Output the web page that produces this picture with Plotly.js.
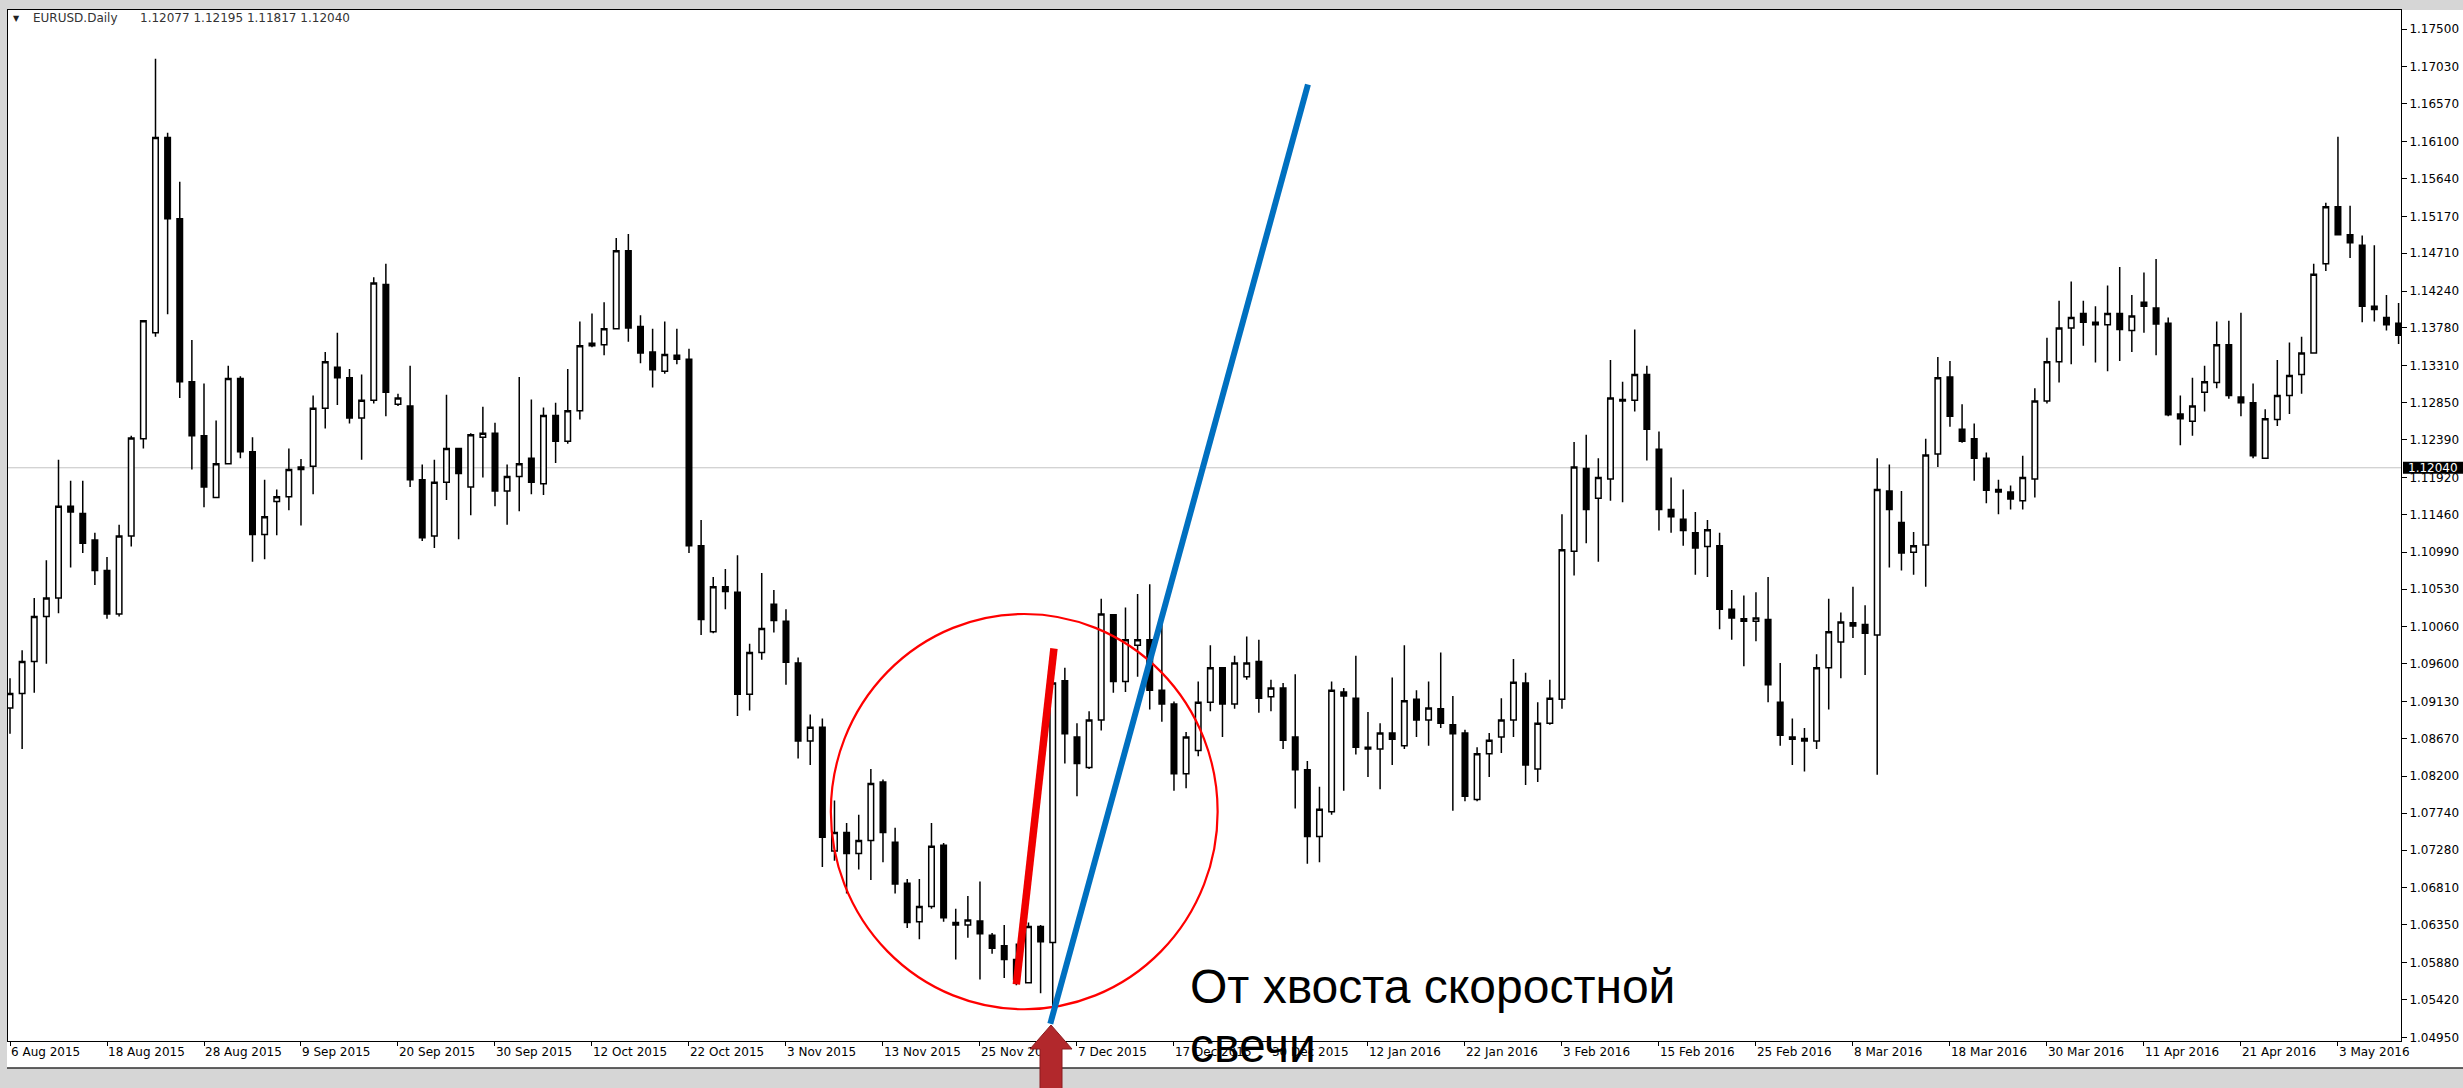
<!DOCTYPE html>
<html><head><meta charset="utf-8">
<script src="https://cdn.plot.ly/plotly-3.0.1.min.js"></script>
<style>html,body{margin:0;padding:0;background:#d6d6d6;overflow:hidden}#chart{width:2463px;height:1088px}</style>
</head><body><div id="chart"></div>
<script>
// ---- data (EURUSD Daily, one bar per trading day) ----
const dateLabels = ["6 Aug 2015","18 Aug 2015","28 Aug 2015","9 Sep 2015","20 Sep 2015","30 Sep 2015","12 Oct 2015","22 Oct 2015","3 Nov 2015","13 Nov 2015","25 Nov 2015","7 Dec 2015","17 Dec 2015","30 Dec 2015","12 Jan 2016","22 Jan 2016","3 Feb 2016","15 Feb 2016","25 Feb 2016","8 Mar 2016","18 Mar 2016","30 Mar 2016","11 Apr 2016","21 Apr 2016","3 May 2016"];
const barsPerLabel = 8;

const open = [
1.0905,1.0923,1.0963,1.1019,1.1042,1.1156,1.1147,1.1114,1.1076,1.1022,
1.1119,1.1240,1.1372,1.1615,1.1514,1.1311,1.1244,1.1167,1.1209,1.1315,
1.1224,1.1121,1.1162,1.1168,1.1202,1.1206,1.1278,1.1329,1.1316,1.1266,
1.1288,1.1432,1.1283,1.1281,1.1189,1.1119,1.1186,1.1228,1.1180,1.1242,
1.1247,1.1175,1.1193,1.1216,1.1184,1.1269,1.1237,1.1275,1.1359,1.1357,
1.1377,1.1474,1.1380,1.1348,1.1324,1.1344,1.1339,1.1107,1.1000,1.1056,
1.1049,1.0922,1.0974,1.1034,1.1013,1.0961,1.0864,1.0881,1.0727,1.0750,
1.0724,1.0740,1.0813,1.0738,1.0687,1.0639,1.0658,1.0734,1.0638,1.0635,
1.0640,1.0622,1.0609,1.0592,1.0563,1.0633,1.0613,1.0939,1.0869,1.0831,
1.0890,1.1021,1.0938,1.0983,1.0990,1.0927,1.0910,1.0823,1.0852,1.0912,
1.0955,1.0910,1.0944,1.0963,1.0919,1.0930,1.0869,1.0828,1.0745,1.0776,
1.0925,1.0917,1.0856,1.0854,1.0874,1.0858,1.0916,1.0890,1.0904,1.0884,
1.0874,1.0791,1.0848,1.0869,1.0890,1.0936,1.0829,1.0886,1.0916,1.1100,
1.1203,1.1166,1.1190,1.1287,1.1288,1.1320,1.1227,1.1152,1.1140,1.1123,
1.1106,1.1107,1.1028,1.1016,1.1013,1.1015,1.0912,1.0869,1.0864,1.0864,
1.0955,1.0987,1.1011,1.1009,1.0996,1.1175,1.1136,1.1099,1.1108,1.1221,
1.1317,1.1252,1.1240,1.1216,1.1177,1.1174,1.1163,1.1190,1.1287,1.1336,
1.1378,1.1396,1.1385,1.1382,1.1396,1.1375,1.1410,1.1403,1.1384,1.1271,
1.1262,1.1298,1.1310,1.1357,1.1292,1.1285,1.1216,1.1264,1.1294,1.1320,
1.1347,1.1458,1.1529,1.1494,1.1481,1.1405,1.1391,1.1384];

const high = [
1.0942,1.0977,1.1042,1.1089,1.1214,1.1188,1.1188,1.1123,1.1093,1.1133,
1.1244,1.1387,1.1713,1.1621,1.1560,1.1363,1.1309,1.1263,1.1331,1.1318,
1.1242,1.1189,1.1177,1.1228,1.1215,1.1294,1.1348,1.1372,1.1327,1.1320,
1.1441,1.1458,1.1296,1.1331,1.1208,1.1214,1.1295,1.1229,1.1247,1.1280,
1.1260,1.1208,1.1317,1.1289,1.1279,1.1285,1.1327,1.1386,1.1396,1.1410,
1.1490,1.1495,1.1394,1.1377,1.1386,1.1377,1.1352,1.1139,1.1068,1.1078,
1.1095,1.0985,1.1073,1.1052,1.1028,1.0968,1.0897,1.0892,1.0790,1.0762,
1.0772,1.0829,1.0816,1.0756,1.0692,1.0692,1.0762,1.0737,1.0655,1.0671,
1.0689,1.0625,1.0635,1.0612,1.0638,1.0635,1.0978,1.0955,1.0886,1.0901,
1.1041,1.1021,1.1030,1.1047,1.1059,1.1013,1.0913,1.0875,1.0938,1.0983,
1.0955,1.0970,1.0994,1.0990,1.0940,1.0936,1.0947,1.0839,1.0807,1.0938,
1.0930,1.0970,1.0900,1.0886,1.0943,1.0983,1.0927,1.0938,1.0974,1.0920,
1.0878,1.0856,1.0874,1.0917,1.0966,1.0949,1.0912,1.0940,1.1146,1.1236,
1.1245,1.1216,1.1338,1.1311,1.1376,1.1331,1.1249,1.1192,1.1177,1.1149,
1.1139,1.1123,1.1052,1.1045,1.1049,1.1068,1.0961,1.0892,1.0880,1.0972,
1.1041,1.1024,1.1056,1.1033,1.1216,1.1208,1.1175,1.1124,1.1240,1.1342,
1.1337,1.1283,1.1259,1.1223,1.1189,1.1182,1.1219,1.1303,1.1366,1.1412,
1.1436,1.1412,1.1405,1.1431,1.1454,1.1419,1.1447,1.1464,1.1391,1.1294,
1.1316,1.1331,1.1386,1.1387,1.1397,1.1309,1.1277,1.1338,1.1360,1.1367,
1.1458,1.1534,1.1616,1.1530,1.1493,1.1481,1.1419,1.1409];

const low = [
1.0873,1.0854,1.0924,1.0960,1.1023,1.1080,1.1098,1.1058,1.1016,1.1019,
1.1106,1.1228,1.1367,1.1395,1.1291,1.1202,1.1155,1.1167,1.1208,1.1216,
1.1087,1.1090,1.1120,1.1151,1.1132,1.1171,1.1253,1.1282,1.1259,1.1214,
1.1284,1.1268,1.1281,1.1180,1.1113,1.1104,1.1164,1.1115,1.1145,1.1192,
1.1156,1.1133,1.1150,1.1171,1.1170,1.1210,1.1234,1.1264,1.1354,1.1344,
1.1376,1.1361,1.1334,1.1304,1.1321,1.1333,1.1098,1.0996,1.0998,1.1028,
1.0895,1.0902,1.0965,1.0999,1.0934,1.0842,1.0834,1.0707,1.0715,1.0674,
1.0704,1.0691,1.0713,1.0674,1.0631,1.0617,1.0655,1.0639,1.0592,1.0619,
1.0567,1.0599,1.0569,1.0560,1.0562,1.0550,1.0530,1.0836,1.0795,1.0829,
1.0877,1.0924,1.0925,1.0944,1.0903,1.0888,1.0802,1.0805,1.0845,1.0901,
1.0869,1.0904,1.0940,1.0899,1.0901,1.0854,1.0780,1.0711,1.0713,1.0772,
1.0802,1.0847,1.0819,1.0804,1.0834,1.0854,1.0869,1.0858,1.0880,1.0777,
1.0789,1.0789,1.0819,1.0849,1.0869,1.0809,1.0813,1.0884,1.0904,1.1070,
1.1110,1.1087,1.1163,1.1161,1.1274,1.1213,1.1126,1.1123,1.1107,1.1071,
1.1068,1.1003,1.0990,1.0957,1.0988,1.0912,1.0858,1.0834,1.0826,1.0854,
1.0903,1.0942,1.0992,1.0946,1.0822,1.1080,1.1076,1.1071,1.1056,1.1205,
1.1255,1.1235,1.1188,1.1160,1.1146,1.1152,1.1152,1.1167,1.1284,1.1310,
1.1333,1.1356,1.1335,1.1324,1.1337,1.1348,1.1372,1.1344,1.1268,1.1232,
1.1244,1.1274,1.1303,1.1290,1.1268,1.1216,1.1215,1.1256,1.1271,1.1296,
1.1346,1.1449,1.1493,1.1465,1.1385,1.1386,1.1375,1.1358];

const close = [
1.0923,1.0963,1.1019,1.1042,1.1156,1.1149,1.1110,1.1076,1.1022,1.1119,
1.1241,1.1387,1.1615,1.1514,1.1311,1.1244,1.1180,1.1209,1.1315,1.1224,
1.1121,1.1143,1.1168,1.1202,1.1205,1.1278,1.1336,1.1316,1.1266,1.1288,
1.1434,1.1298,1.1291,1.1189,1.1117,1.1186,1.1228,1.1197,1.1245,1.1247,
1.1175,1.1193,1.1209,1.1186,1.1269,1.1237,1.1275,1.1356,1.1356,1.1377,
1.1474,1.1378,1.1347,1.1326,1.1345,1.1339,1.1107,1.1015,1.1056,1.1050,
1.0922,1.0974,1.1004,1.1014,1.0962,1.0864,1.0881,1.0744,1.0750,1.0724,
1.0740,1.0811,1.0750,1.0686,1.0638,1.0658,1.0733,1.0644,1.0635,1.0641,
1.0624,1.0606,1.0592,1.0567,1.0633,1.0614,1.0936,1.0873,1.0836,1.0890,
1.1022,1.0938,1.0990,1.0990,1.0927,1.0910,1.0823,1.0869,1.0912,1.0955,
1.0910,1.0961,1.0961,1.0917,1.0930,1.0865,1.0828,1.0745,1.0779,1.0927,
1.0920,1.0856,1.0854,1.0874,1.0866,1.0914,1.0890,1.0905,1.0886,1.0873,
1.0795,1.0848,1.0865,1.0890,1.0937,1.0834,1.0886,1.0917,1.1102,1.1205,
1.1152,1.1192,1.1291,1.1289,1.1320,1.1252,1.1152,1.1143,1.1126,1.1104,
1.1127,1.1028,1.1017,1.1013,1.1017,1.0934,1.0871,1.0866,1.0867,1.0955,
1.1000,1.1012,1.1007,1.0998,1.1177,1.1152,1.1098,1.1107,1.1220,1.1316,
1.1268,1.1237,1.1216,1.1176,1.1174,1.1165,1.1192,1.1287,1.1336,1.1378,
1.1391,1.1385,1.1382,1.1396,1.1376,1.1393,1.1405,1.1383,1.1270,1.1265,
1.1281,1.1311,1.1357,1.1294,1.1285,1.1219,1.1265,1.1294,1.1319,1.1347,
1.1445,1.1529,1.1494,1.1484,1.1405,1.1401,1.1382,1.1369];

const yTickLabels = ["1.17500","1.17030","1.16570","1.16100","1.15640","1.15170","1.14710","1.14240","1.13780","1.13310","1.12850","1.12390","1.11920","1.11460","1.10990","1.10530","1.10060","1.09600","1.09130","1.08670","1.08200","1.07740","1.07280","1.06810","1.06350","1.05880","1.05420","1.04950"];
const bidPrice = 1.12040;
const headerSymbol = "EURUSD.Daily";
const headerOHLC = "1.12077 1.12195 1.11817 1.12040";
const noteLine1 = "От хвоста скоростной";
const noteLine2 = "свечи";

// speed-candle annotation (bar index, price)
const redLine = {x: [83.0, 86.1], y: [1.0561, 1.0979]};
const blueLine = {x: [85.8, 107.05], y: [1.0512, 1.1681]};
const circle = {x: [67.7, 99.6], y: [1.0530, 1.1022]};

// ---- build ----
const barIndex = open.map((_, i) => i);
const tickVals = dateLabels.map((_, i) => i * barsPerLabel);
const yTickVals = yTickLabels.map(Number);

const W = 2463, H = 1088;
const M = {l: 8, r: 62, t: 10, b: 47};
const PW = W - M.l - M.r, PH = H - M.t - M.b;
const px = x => (x - M.l) / PW;          // pixel -> paper x
const py = y => (H - M.b - y) / PH;      // pixel -> paper y

const trace = {
  type: 'candlestick',
  x: barIndex, open: open, high: high, low: low, close: close,
  increasing: {line: {color: '#000000', width: 1.5}, fillcolor: '#ffffff'},
  decreasing: {line: {color: '#000000', width: 1.5}, fillcolor: '#000000'},
  whiskerwidth: 0,
  hoverinfo: 'none',
  showlegend: false
};

const font = 'DejaVu Sans, Verdana, sans-serif';

const layout = {
  width: W, height: H,
  margin: {l: M.l, r: M.r, t: M.t, b: M.b, pad: 0},
  paper_bgcolor: '#d6d6d6',
  plot_bgcolor: '#ffffff',
  font: {family: font, size: 12, color: '#000000'},
  showlegend: false,
  boxgap: 0.35,
  xaxis: {
    range: [-0.165, 197.2],
    rangeslider: {visible: false},
    tickmode: 'array', tickvals: tickVals, ticktext: dateLabels,
    ticks: 'outside', ticklen: 4, tickwidth: 1, tickcolor: '#000',
    ticklabelposition: 'outside right',
    showgrid: false, zeroline: false,
    showline: true, linecolor: '#000', linewidth: 1, mirror: true,
    tickfont: {family: font, size: 12, color: '#000'},
    fixedrange: true
  },
  yaxis: {
    side: 'right',
    range: [1.04905, 1.17738],
    tickmode: 'array', tickvals: yTickVals, ticktext: yTickLabels,
    ticks: 'outside', ticklen: 5, tickwidth: 1, tickcolor: '#000',
    showgrid: false, zeroline: false,
    showline: true, linecolor: '#000', linewidth: 1, mirror: true,
    tickfont: {family: font, size: 12, color: '#000'},
    fixedrange: true
  },
  shapes: [
    // white chart window (plot + label strips)
    {type: 'rect', xref: 'paper', yref: 'paper', x0: px(7), x1: px(W), y0: py(1068), y1: py(M.t),
     fillcolor: '#ffffff', line: {width: 0}, layer: 'below'},
    // bottom border of window
    {type: 'line', xref: 'paper', yref: 'paper', x0: px(7), x1: px(W), y0: py(1068), y1: py(1068),
     line: {color: '#303030', width: 1.5}},
    // bid line
    {type: 'line', xref: 'paper', yref: 'y', x0: 0, x1: 1, y0: bidPrice, y1: bidPrice,
     line: {color: '#c4c4c4', width: 1}, layer: 'below'},
    // bid label box
    {type: 'rect', xref: 'paper', yref: 'y', x0: px(2403), x1: px(W), y0: bidPrice - 6/8034, y1: bidPrice + 6/8034,
     fillcolor: '#000000', line: {width: 0}, layer: 'above'},
    // red ellipse
    {type: 'circle', xref: 'x', yref: 'y', x0: circle.x[0], x1: circle.x[1], y0: circle.y[0], y1: circle.y[1],
     line: {color: '#ff0000', width: 2.2}, fillcolor: 'rgba(0,0,0,0)'},
    // red speed line
    {type: 'line', xref: 'x', yref: 'y', x0: redLine.x[0], x1: redLine.x[1], y0: redLine.y[0], y1: redLine.y[1],
     line: {color: '#f00000', width: 7.5}},
    // blue line
    {type: 'line', xref: 'x', yref: 'y', x0: blueLine.x[0], x1: blueLine.x[1], y0: blueLine.y[0], y1: blueLine.y[1],
     line: {color: '#0070c0', width: 6}},
    // dark red up arrow
    {type: 'path', xref: 'paper', yref: 'paper',
     path: 'M ' + px(1051) + ' ' + py(1025) +
           ' L ' + px(1072) + ' ' + py(1049) +
           ' L ' + px(1062) + ' ' + py(1049) +
           ' L ' + px(1062) + ' ' + py(1092) +
           ' L ' + px(1040) + ' ' + py(1092) +
           ' L ' + px(1040) + ' ' + py(1049) +
           ' L ' + px(1030) + ' ' + py(1049) + ' Z',
     fillcolor: '#b2282c', line: {color: '#8a1b1e', width: 1}, layer: 'above'}
  ],
  annotations: [
    {xref: 'paper', yref: 'paper', x: px(16.5), y: py(18), text: '▼', showarrow: false,
     xanchor: 'center', yanchor: 'middle', font: {family: font, size: 8, color: '#222'}},
    {xref: 'paper', yref: 'paper', x: px(31), y: py(18), text: headerSymbol, showarrow: false,
     xanchor: 'left', yanchor: 'middle', font: {family: font, size: 12, color: '#333'}},
    {xref: 'paper', yref: 'paper', x: px(138), y: py(18), text: headerOHLC, showarrow: false,
     xanchor: 'left', yanchor: 'middle', font: {family: font, size: 12, color: '#333'}},
    {xref: 'paper', yref: 'y', x: px(2406), y: bidPrice, text: bidPrice.toFixed(5), showarrow: false,
     xanchor: 'left', yanchor: 'middle', font: {family: font, size: 12, color: '#ffffff'}},
    {xref: 'paper', yref: 'paper', x: px(1188), y: py(986), text: noteLine1, showarrow: false,
     xanchor: 'left', yanchor: 'middle', font: {family: 'Liberation Sans, Arial, sans-serif', size: 48, color: '#000'}},
    {xref: 'paper', yref: 'paper', x: px(1188), y: py(1045), text: noteLine2, showarrow: false,
     xanchor: 'left', yanchor: 'middle', font: {family: 'Liberation Sans, Arial, sans-serif', size: 48, color: '#000'}}
  ]
};

Plotly.newPlot('chart', [trace], layout, {staticPlot: true, displayModeBar: false});
</script>
</body></html>
